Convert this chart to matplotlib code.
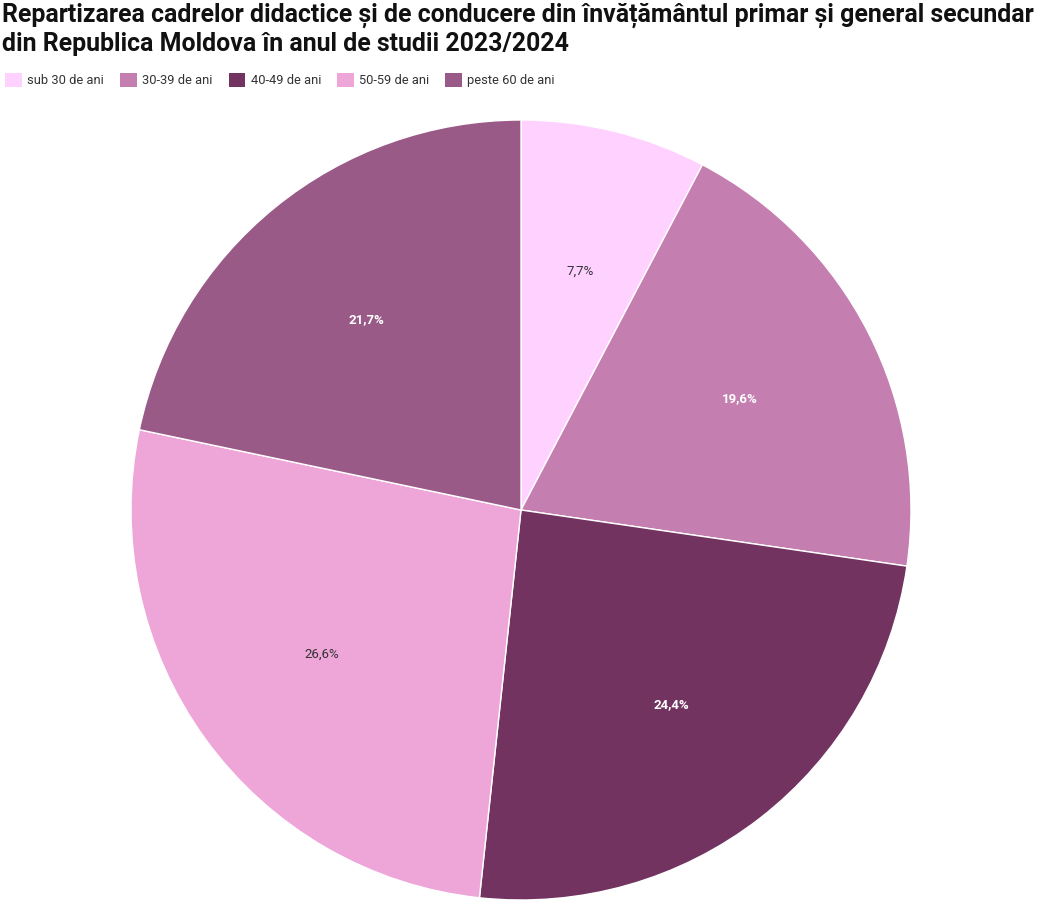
import matplotlib
matplotlib.use("Agg")
import matplotlib.pyplot as plt
from matplotlib.patches import Patch

plt.rcParams['font.family'] = ['Roboto', 'DejaVu Sans']

categories = ['sub 30 de ani', '30-39 de ani', '40-49 de ani', '50-59 de ani', 'peste 60 de ani']
values = [7.7, 19.6, 24.4, 26.6, 21.7]
colors = ['#FFD1FF', '#C47EAF', '#733361', '#EEA5D8', '#9A5A87']
label_colors = ['#333333', 'white', 'white', '#333333', 'white']
label_weights = ['normal', 'bold', 'bold', 'normal', 'bold']

title = ("Repartizarea cadrelor didactice și de conducere din învățământul primar și general secundar\n"
         "din Republica Moldova în anul de studii 2023/2024")

W, H = 1045, 917
fig = plt.figure(figsize=(W / 100, H / 100), dpi=100)

# pie centre ~ (521, 510) px, radius ~390 px
cx, cy, r = 521, 510, 390
ax = fig.add_axes([(cx - r) / W, (H - cy - r) / H, 2 * r / W, 2 * r / H])
wedges, texts, autotexts = ax.pie(
    values, colors=colors, startangle=90, counterclock=False,
    autopct=lambda p: f"{p:.1f}%".replace('.', ','), pctdistance=0.63,
    wedgeprops=dict(edgecolor='white', linewidth=1))
for t, c, w in zip(autotexts, label_colors, label_weights):
    t.set_color(c)
    t.set_fontsize(9.5)
    t.set_fontweight(w)
ax.set_xlim(-1, 1)
ax.set_ylim(-1, 1)
ax.set_aspect('equal')

fig.text(2 / W, 1 - 3 / H, title, ha='left', va='top', fontsize=17.9,
         fontweight='bold', color='#111111', linespacing=1.2)

handles = [Patch(facecolor=c, edgecolor='none') for c in colors]
fig.legend(handles, categories, loc='upper left', bbox_to_anchor=(-0.006, 1 - 61 / H),
           ncol=5, frameon=False, fontsize=9.3, handlelength=1.3, handleheight=1.3,
           handletextpad=0.4, columnspacing=1.25, labelcolor='#333333')

fig.savefig('out.png', dpi=100, facecolor='white')
